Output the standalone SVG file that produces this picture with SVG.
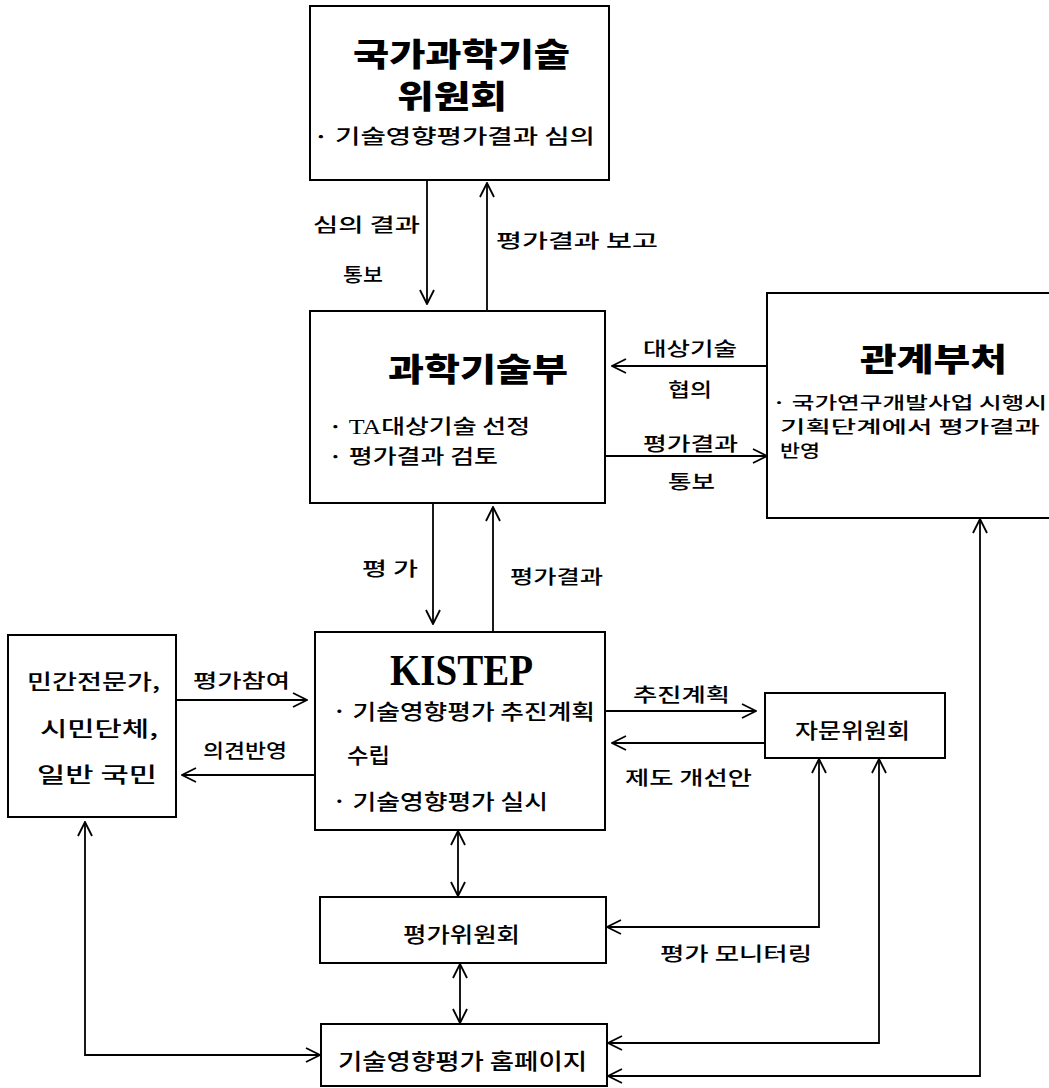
<svg xmlns="http://www.w3.org/2000/svg" width="1049" height="1088" viewBox="0 0 1049 1088">
<defs>
<marker id="ah" viewBox="0 0 16 16" refX="15" refY="8" markerWidth="16" markerHeight="16" markerUnits="userSpaceOnUse" orient="auto-start-reverse">
<path d="M1,1 L15,8 L1,15" fill="none" stroke="#000" stroke-width="1.8"/>
</marker>
<style>
.box{fill:#fff;stroke:#000;stroke-width:2}
.ln{fill:none;stroke:#000;stroke-width:1.8}
.ar{marker-end:url(#ah)}
.dbl{marker-start:url(#ah);marker-end:url(#ah)}
text{font-family:"Noto Sans CJK KR","Liberation Serif",serif;fill:#000;font-weight:500}
.ttl{font-size:32px;font-weight:900}
.t21{font-size:21px}
.t20{font-size:20px}
.t19{font-size:19px}
.t17{font-size:17px}
.ser{font-family:"Liberation Serif","Noto Sans CJK KR",serif}
.kis{font-family:"Liberation Serif",serif;font-size:44px;font-weight:bold}
</style>
</defs>
<rect width="1049" height="1088" fill="#fff"/>

<g id="connectors">
<line class="ln ar" x1="427" y1="181" x2="427" y2="304"/>
<line class="ln ar" x1="487" y1="311" x2="487" y2="183"/>
<line class="ln ar" x1="767" y1="366" x2="612" y2="366"/>
<line class="ln ar" x1="605" y1="456" x2="767" y2="456"/>
<line class="ln ar" x1="433" y1="504" x2="433" y2="624"/>
<line class="ln ar" x1="493" y1="631" x2="493" y2="507"/>
<line class="ln ar" x1="176" y1="700" x2="307" y2="700"/>
<line class="ln ar" x1="314" y1="775" x2="182" y2="775"/>
<line class="ln ar" x1="605" y1="711" x2="756" y2="711"/>
<line class="ln ar" x1="765" y1="743" x2="612" y2="743"/>
<line class="ln dbl" x1="458" y1="831" x2="458" y2="896"/>
<line class="ln dbl" x1="460" y1="964" x2="460" y2="1023"/>
<polyline class="ln dbl" points="819,759 819,927 607,927"/>
<polyline class="ln dbl" points="879,759 879,1043 608,1043"/>
<polyline class="ln dbl" points="980,519 980,1076 608,1076"/>
<polyline class="ln dbl" points="85,822 85,1055 320,1055"/>
<text class="t19" x="313" y="232" textLength="107" lengthAdjust="spacingAndGlyphs">심의 결과</text>
<text class="t19" x="343" y="282" textLength="40" lengthAdjust="spacingAndGlyphs">통보</text>
<text class="t19" x="496" y="248" textLength="162" lengthAdjust="spacingAndGlyphs">평가결과 보고</text>
<text class="t19" x="643" y="356" textLength="94" lengthAdjust="spacingAndGlyphs">대상기술</text>
<text class="t19" x="668" y="397" textLength="44" lengthAdjust="spacingAndGlyphs">협의</text>
<text class="t19" x="643" y="451" textLength="95" lengthAdjust="spacingAndGlyphs">평가결과</text>
<text class="t19" x="668" y="489" textLength="47" lengthAdjust="spacingAndGlyphs">통보</text>
<text class="t19" x="362" y="576" textLength="56" lengthAdjust="spacingAndGlyphs">평 가</text>
<text class="t19" x="510" y="584" textLength="93" lengthAdjust="spacingAndGlyphs">평가결과</text>
<text class="t19" x="193" y="688" textLength="97" lengthAdjust="spacingAndGlyphs">평가참여</text>
<text class="t19" x="203" y="758" textLength="84" lengthAdjust="spacingAndGlyphs">의견반영</text>
<text class="t19" x="633" y="702" textLength="97" lengthAdjust="spacingAndGlyphs">추진계획</text>
<text class="t19" x="625" y="785" textLength="127" lengthAdjust="spacingAndGlyphs">제도 개선안</text>
<text class="t19" x="660" y="961" textLength="152" lengthAdjust="spacingAndGlyphs">평가 모니터링</text>
</g>

<g id="node-council">
<rect class="box" x="310" y="6" width="299" height="174"/>
<text class="ttl" x="353" y="66" font-size="28" textLength="217" lengthAdjust="spacingAndGlyphs">국가과학기술</text>
<text class="ttl" x="397" y="108" font-size="28" textLength="110" lengthAdjust="spacingAndGlyphs">위원회</text>
<text class="t20" x="313" y="144" textLength="282" lengthAdjust="spacingAndGlyphs">· 기술영향평가결과 심의</text>
</g>

<g id="node-most">
<rect class="box" x="310" y="311" width="295" height="192"/>
<text class="ttl" x="388" y="381" font-size="34" textLength="180" lengthAdjust="spacingAndGlyphs">과학기술부</text>
<text class="t20" x="328" y="434" textLength="202" lengthAdjust="spacingAndGlyphs">· <tspan class="ser">TA</tspan>대상기술 선정</text>
<text class="t20" x="328" y="464" textLength="170" lengthAdjust="spacingAndGlyphs">· 평가결과 검토</text>
</g>

<g id="node-ministries">
<rect class="box" x="767" y="293" width="300" height="225"/>
<text class="ttl" x="860" y="371" textLength="147" lengthAdjust="spacingAndGlyphs">관계부처</text>
<text class="t17" x="772" y="409" textLength="275" lengthAdjust="spacingAndGlyphs">· 국가연구개발사업 시행시</text>
<text class="t17" x="780" y="433" textLength="260" lengthAdjust="spacingAndGlyphs">기획단계에서 평가결과</text>
<text class="t17" x="780" y="457" textLength="40" lengthAdjust="spacingAndGlyphs">반영</text>
</g>

<g id="node-kistep">
<rect class="box" x="315" y="632" width="290" height="198"/>
<text class="kis" x="390" y="685" textLength="143" lengthAdjust="spacingAndGlyphs">KISTEP</text>
<text class="t21" x="332" y="719" textLength="263" lengthAdjust="spacingAndGlyphs">· 기술영향평가 추진계획</text>
<text class="t21" x="347" y="763" textLength="43" lengthAdjust="spacingAndGlyphs">수립</text>
<text class="t21" x="332" y="809" textLength="216" lengthAdjust="spacingAndGlyphs">· 기술영향평가 실시</text>
</g>

<g id="node-public">
<rect class="box" x="8" y="635" width="168" height="182"/>
<text class="t21" x="27" y="689" textLength="133" lengthAdjust="spacingAndGlyphs">민간전문가,</text>
<text class="t21" x="40" y="736" textLength="118" lengthAdjust="spacingAndGlyphs">시민단체,</text>
<text class="t21" x="37" y="782" textLength="120" lengthAdjust="spacingAndGlyphs">일반 국민</text>
</g>

<g id="node-advisory">
<rect class="box" x="765" y="693" width="180" height="65"/>
<text class="t21" x="795" y="738" textLength="115" lengthAdjust="spacingAndGlyphs">자문위원회</text>
</g>

<g id="node-evalcommittee">
<rect class="box" x="320" y="897" width="286" height="66"/>
<text class="t21" x="403" y="942" textLength="117" lengthAdjust="spacingAndGlyphs">평가위원회</text>
</g>

<g id="node-homepage">
<rect class="box" x="321" y="1024" width="286" height="62"/>
<text x="338" y="1069" font-size="22" textLength="249" lengthAdjust="spacingAndGlyphs">기술영향평가 홈페이지</text>
</g>
</svg>
